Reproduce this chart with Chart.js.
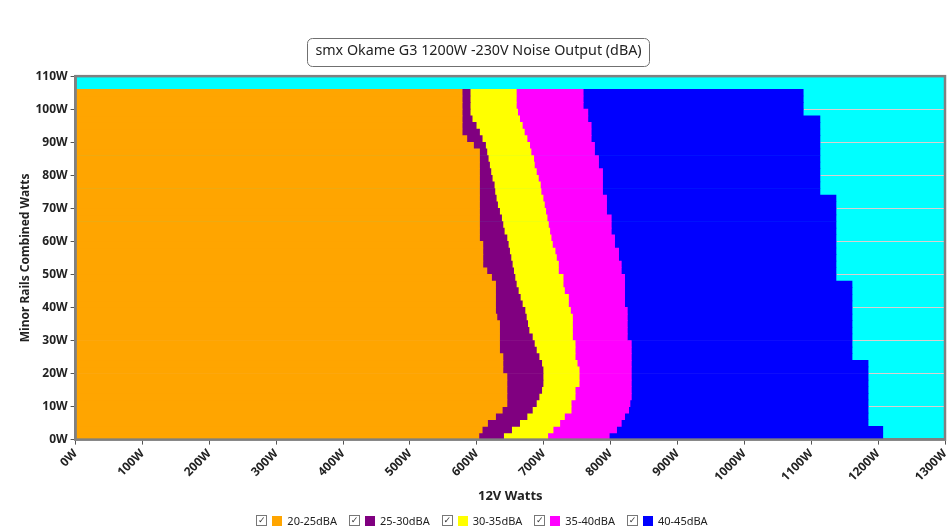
<!DOCTYPE html>
<html>
<head>
<meta charset="utf-8">
<script src="https://cdn.jsdelivr.net/npm/chart.js"></script>
<style>
    html, body { margin: 0; padding: 0; background: #fff; }
    #wrap { position: relative; width: 950px; height: 530px; }
    #legend {
        position: absolute; left: 0; right: 0; top: 513px;
        display: flex; justify-content: center; align-items: center;
        font: 11px "Noto Sans", sans-serif; color: #222;
        padding-left: 14px;
    }
    .item { display: flex; align-items: center; margin: 0 6px; }
    .check {
        width: 9px; height: 9px; border: 1px solid #777; margin-right: 5px;
        font: 9px "DejaVu Sans"; line-height: 9px; text-align: center; color: #333;
    }
    .swatch { width: 10px; height: 10px; margin-right: 5px; }
</style>
</head>
<body>
<div id="wrap">
    <canvas id="noise-chart" width="950" height="530"></canvas>
    <div id="legend"></div>
</div>
<script>
// minor rails load (W), centre of each 2W row
const minorWatts = [1, 3, 5, 7, 9, 11, 13, 15, 17, 19, 21, 23, 25, 27, 29, 31, 33, 35, 37, 39, 41, 43, 45,
    47, 49, 51, 53, 55, 57, 59, 61, 63, 65, 67, 69, 71, 73, 75, 77, 79, 81, 83, 85, 87, 89, 91, 93, 95,
    97, 99, 101, 103, 105];

// 12V load (W) where each noise band ends, per row
const edge20to25 = [603, 608, 616, 628, 638, 645, 645, 645, 645, 645, 639, 639, 639, 634, 634, 634, 634, 634, 630, 628, 628, 628, 628,
    628, 622, 615, 609, 609, 609, 609, 604, 604, 604, 604, 604, 604, 604, 604, 604, 604, 604, 604, 604, 604, 595, 585, 578, 578,
    578, 578, 578, 578, 578];
const edge25to30 = [640, 652, 664, 675, 683, 689, 693, 697, 699, 699, 699, 697, 693, 689, 686, 683, 678, 676, 674, 672, 668, 665, 662,
    659, 657, 655, 653, 651, 649, 647, 645, 641, 639, 637, 634, 631, 629, 627, 626, 623, 621, 619, 617, 615, 613, 608, 604, 599,
    593, 590, 590, 590, 590];
const edge30to35 = [706, 714, 724, 731, 741, 741, 747, 747, 753, 753, 753, 750, 747, 747, 747, 743, 743, 743, 743, 740, 737, 737, 731,
    729, 729, 722, 722, 719, 717, 713, 711, 709, 707, 705, 703, 701, 699, 696, 695, 692, 689, 686, 685, 681, 679, 675, 671, 668,
    664, 661, 659, 659, 659];
const edge35to40 = [798, 809, 816, 821, 827, 829, 831, 831, 831, 831, 831, 831, 831, 831, 831, 825, 825, 825, 825, 825, 821, 821, 821,
    821, 821, 816, 816, 812, 812, 806, 806, 801, 801, 801, 794, 794, 794, 788, 788, 788, 788, 782, 782, 776, 776, 771, 771, 771,
    766, 766, 759, 759, 759];
const edge40to45 = [1207, 1207, 1185, 1185, 1185, 1185, 1185, 1185, 1185, 1185, 1185, 1185, 1161, 1161, 1161, 1161, 1161, 1161, 1161, 1161, 1161, 1161, 1161,
    1161, 1137, 1137, 1137, 1137, 1137, 1137, 1137, 1137, 1137, 1137, 1137, 1137, 1137, 1113, 1113, 1113, 1113, 1113, 1113, 1113, 1113, 1113, 1113, 1113,
    1113, 1088, 1088, 1088, 1088];

const bandLabels = ['20-25dBA', '25-30dBA', '30-35dBA', '35-40dBA', '40-45dBA'];
const bandColors = ['#FFA500', '#800080', '#FFFF00', '#FF00FF', '#0000FF'];
const bandEdges = [edge20to25, edge25to30, edge30to35, edge35to40, edge40to45];

const chartTitle = 'smx Okame G3 1200W -230V Noise Output (dBA)';
const xTitle = '12V Watts';
const yTitle = 'Minor Rails Combined Watts';

const datasets = bandEdges.map((edges, b) => ({
    label: bandLabels[b],
    backgroundColor: bandColors[b],
    data: minorWatts.map((w, i) => ({
        y: w,
        x: [b === 0 ? 0 : bandEdges[b - 1][i], edges[i]]
    })),
    grouped: false,
    barPercentage: 1,
    categoryPercentage: 1,
    borderWidth: 0
}));

// cyan plot background, under the grid
const plotBackground = {
    id: 'plotBackground',
    beforeDraw(chart) {
        const { ctx, chartArea: a } = chart;
        ctx.save();
        ctx.fillStyle = '#00FFFF';
        ctx.fillRect(a.left, a.top, a.right - a.left, a.bottom - a.top);
        ctx.restore();
    },
    afterDatasetsDraw(chart) {
        const { ctx, chartArea: a } = chart;
        ctx.save();
        ctx.strokeStyle = '#808080';
        ctx.lineWidth = 2.5;
        ctx.strokeRect(a.left, a.top, a.right - a.left, a.bottom - a.top);
        ctx.restore();
    }
};

// rounded frame round the title
const titleFrame = {
    id: 'titleFrame',
    afterDraw(chart) {
        const { ctx } = chart;
        const t = chart.titleBlock;
        ctx.save();
        ctx.font = '14.3px "Noto Sans"';
        const w = ctx.measureText(chartTitle).width + 16;
        const cx = (t.left + t.right) / 2;
        const h = 28;
        const top = 38;
        ctx.strokeStyle = '#707070';
        ctx.lineWidth = 1;
        ctx.beginPath();
        ctx.roundRect(Math.round(cx - w / 2) + 0.5, top + 0.5, Math.round(w), h, 5);
        ctx.stroke();
        ctx.restore();
    }
};

new Chart(document.getElementById('noise-chart'), {
    type: 'bar',
    data: { datasets: datasets },
    options: {
        indexAxis: 'y',
        responsive: false,
        animation: false,
        layout: { padding: { left: 12, right: 5, bottom: 26 } },
        scales: {
            x: {
                type: 'linear',
                min: 0,
                max: 1300,
                border: { color: '#808080', width: 2.5 },
                grid: { drawOnChartArea: false, tickColor: '#555', tickLength: 5 },
                ticks: {
                    stepSize: 100,
                    minRotation: 45,
                    maxRotation: 45,
                    padding: 2,
                    color: '#222',
                    font: { family: 'Noto Sans', size: 12, weight: 'bold' },
                    callback: (v) => v + 'W'
                },
                title: {
                    display: true,
                    text: xTitle,
                    color: '#222',
                    padding: { top: 2, bottom: 0 },
                    font: { family: 'Noto Sans', size: 13, weight: 'bold' }
                },
                afterFit(scale) {
                    scale.paddingRight = 0;
                }
            },
            y: {
                type: 'linear',
                min: 0,
                max: 110,
                offset: false,
                border: { color: '#808080', width: 2.5 },
                grid: { offset: false, color: '#d8d0d0', tickColor: '#555', tickLength: 5 },
                ticks: {
                    stepSize: 10,
                    padding: 3,
                    color: '#222',
                    font: { family: 'Noto Sans', size: 12, weight: 'bold' },
                    callback: (v) => v + 'W'
                },
                title: {
                    display: true,
                    text: yTitle,
                    color: '#222',
                    padding: { top: 6, bottom: 0 },
                    font: { family: 'Noto Sans', size: 12, weight: 'bold' }
                }
            }
        },
        plugins: {
            legend: { display: false },
            tooltip: { enabled: false },
            title: {
                display: true,
                text: chartTitle,
                color: '#222',
                font: { family: 'Noto Sans', size: 14.3, weight: 'normal' },
                padding: { top: 42, bottom: 17 }
            }
        }
    },
    plugins: [plotBackground, titleFrame]
});

// legend built from the same label and colour lists
const legendBox = document.getElementById('legend');
bandLabels.forEach((label, i) => {
    const item = document.createElement('div');
    item.className = 'item';
    const check = document.createElement('span');
    check.className = 'check';
    check.textContent = '\u2713';
    const swatch = document.createElement('span');
    swatch.className = 'swatch';
    swatch.style.background = bandColors[i];
    const text = document.createElement('span');
    text.textContent = label;
    item.appendChild(check);
    item.appendChild(swatch);
    item.appendChild(text);
    legendBox.appendChild(item);
});
</script>
</body>
</html>
